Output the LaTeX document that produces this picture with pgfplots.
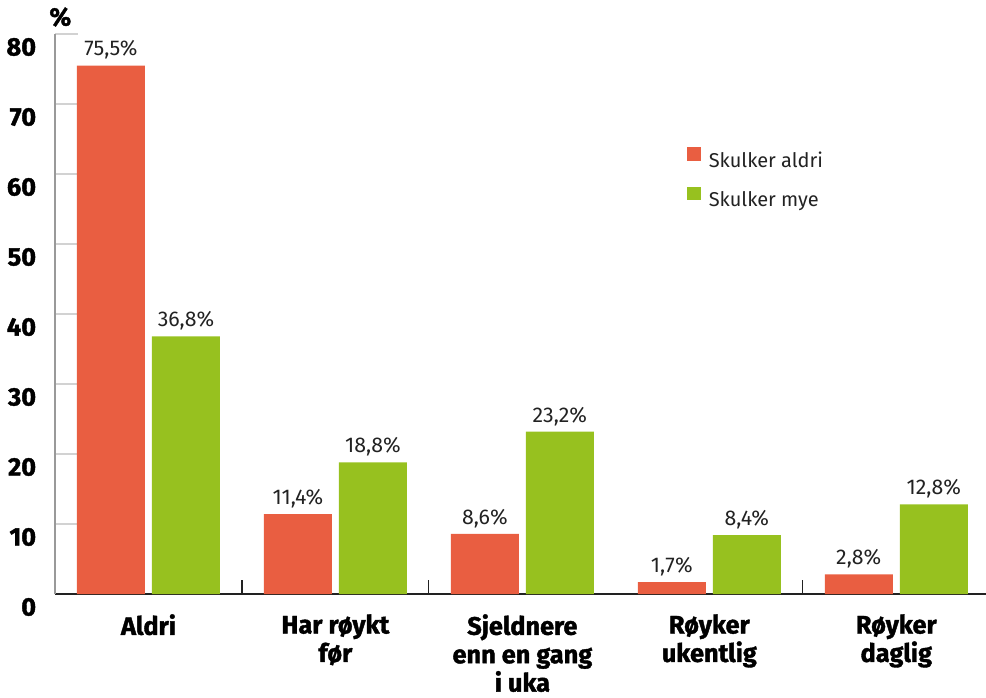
\documentclass[border=0pt]{standalone}
\usepackage{fontspec}
\setmainfont{Fira Sans}[BoldFeatures={FakeBold=1.5}]
\usepackage{pgfplots}
\pgfplotsset{compat=1.18}
\definecolor{Rd}{HTML}{E95E41}
\definecolor{Gr}{HTML}{97C11F}
\definecolor{Tx}{HTML}{222222}
\begin{document}
\begin{tikzpicture}
\begin{axis}[
  scale only axis, width=698.25pt, height=420pt,
  xmin=-0.5, xmax=4.48, ymin=0, ymax=80,
  /pgf/number format/assume math mode=true,
  axis x line=bottom, axis y line=left,
  axis line style={-},
  x axis line style={draw=Tx, line width=0.9pt},
  y axis line style={draw=gray!80, line width=0.9pt},
  ytick={0,10,...,80},
  tick align=inside, major tick length=17pt,
  ytick style={draw=gray!35, line width=0.9pt},
  yticklabel style={font=\fontsize{19}{19}\selectfont\bfseries, anchor=east,
    inner sep=0pt, xshift=-14pt, yshift=-9.75pt, text=black},
  xtick={0,...,4}, xtick style={draw=none},
  xticklabels={Aldri, Har røykt\\før, Sjeldnere\\enn en gang\\i uka,
    Røyker\\ukentlig, Røyker\\daglig},
  xticklabel style={font=\fontsize{19}{21.3}\selectfont\bfseries, align=center,
    anchor=north, inner sep=0pt, yshift=2pt, text=black},
  ybar, bar width=51pt,
  nodes near coords={\pgfmathprintnumber[fixed,fixed zerofill,precision=1,use comma]{\pgfplotspointmeta}\%},
  every node near coord/.append style={font=\fontsize{16}{16}\selectfont, text=Tx, yshift=1pt},
  legend style={at={(0.679,0.798)}, anchor=north west, draw=none, fill=none,
    inner sep=0pt, font=\fontsize{15}{15}\selectfont, text=Tx, row sep=11pt,
    /tikz/every odd column/.append style={column sep=4pt}},
  legend cell align=left,
  clip=false,
]
\addplot[fill=Rd, draw=none, bar shift=-28.125pt,
  legend image code/.code={\fill[Rd] (0pt,0pt) rectangle (10pt,10pt);}]
  coordinates {(0,75.5) (1,11.4) (2,8.6) (3,1.7) (4,2.8)};
\addlegendentry{Skulker aldri}
\addplot[fill=Gr, draw=none, bar shift=28.125pt,
  legend image code/.code={\fill[Gr] (0pt,0pt) rectangle (10pt,10pt);}]
  coordinates {(0,36.8) (1,18.8) (2,23.2) (3,8.4) (4,12.8)};
\addlegendentry{Skulker mye}
% group separators on the x axis
\draw[Tx, line width=0.9pt] (axis cs:0.5,0) -- ([yshift=10.5pt]axis cs:0.5,0);
\draw[Tx, line width=0.9pt] (axis cs:1.5,0) -- ([yshift=10.5pt]axis cs:1.5,0);
\draw[Tx, line width=0.9pt] (axis cs:3.5,0) -- ([yshift=10.5pt]axis cs:3.5,0);
\node[font=\fontsize{19}{19}\selectfont\bfseries] at (rel axis cs:0,1) [xshift=4pt, yshift=12.75pt] {\%};
\end{axis}
\pgfresetboundingbox
\path (-41.25pt,-77.25pt) rectangle (698.25pt,445.5pt);
\end{tikzpicture}
\end{document}
